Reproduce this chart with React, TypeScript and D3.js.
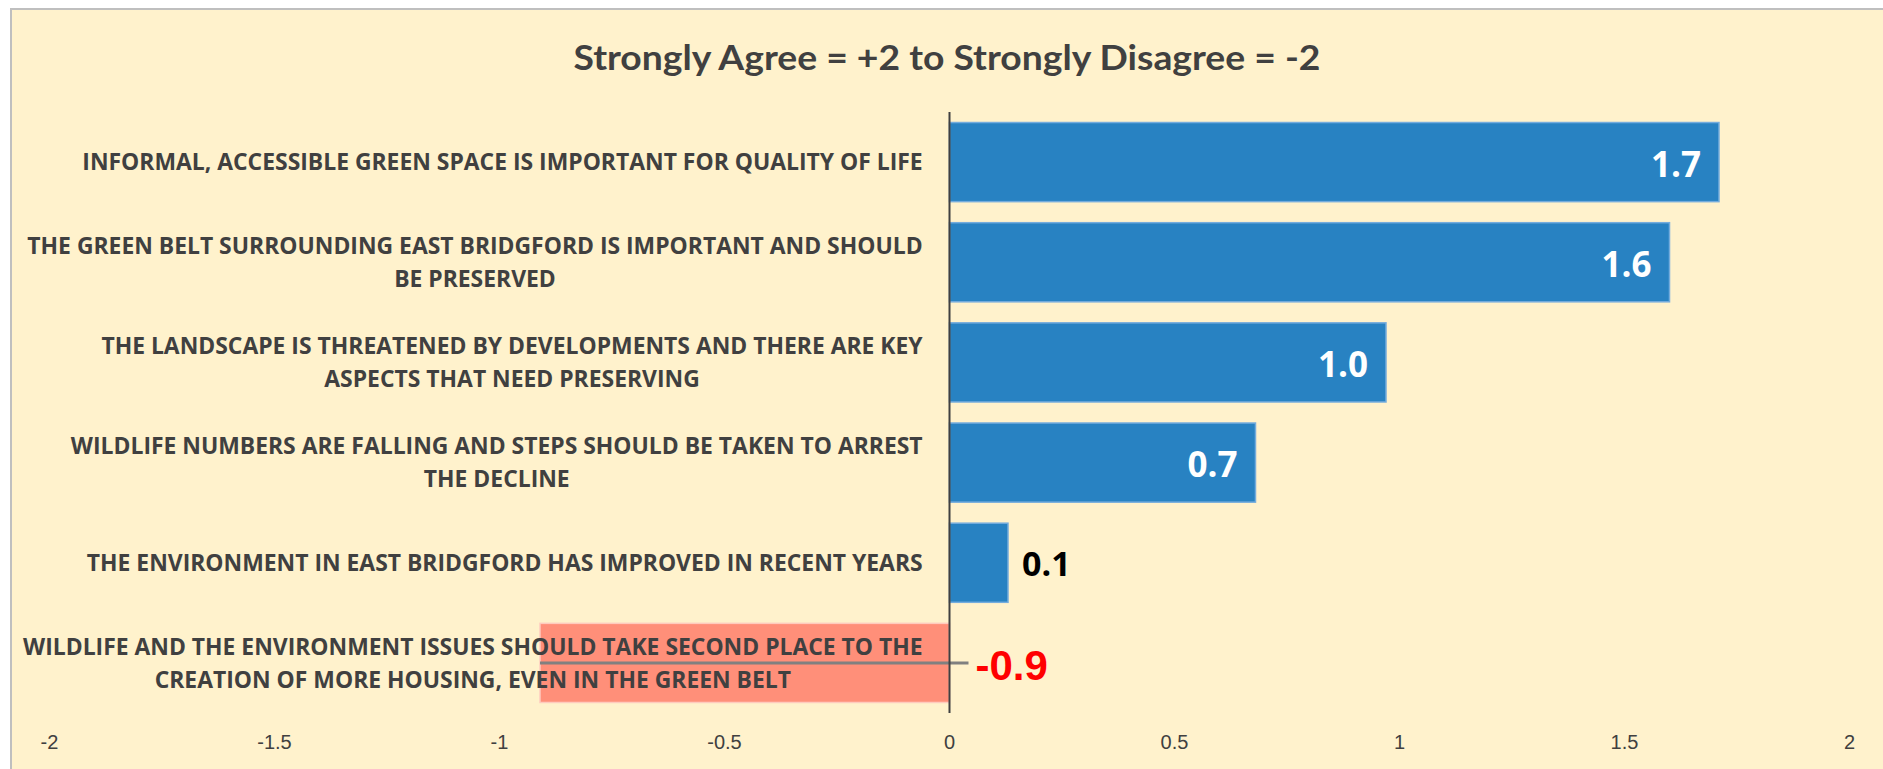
import React, { useEffect, useRef } from 'react';
import * as d3 from 'd3';

const W = 1883;
const H = 769;

const title = 'Strongly Agree = +2 to Strongly Disagree = -2';

const categoryLines: string[][] = [
  ['INFORMAL, ACCESSIBLE GREEN SPACE IS IMPORTANT FOR QUALITY OF LIFE'],
  ['THE GREEN BELT SURROUNDING EAST BRIDGFORD IS IMPORTANT AND SHOULD', 'BE PRESERVED'],
  ['THE LANDSCAPE IS THREATENED BY DEVELOPMENTS AND THERE ARE KEY', 'ASPECTS THAT NEED PRESERVING'],
  ['WILDLIFE NUMBERS ARE FALLING AND STEPS SHOULD BE TAKEN TO ARREST', 'THE DECLINE'],
  ['THE ENVIRONMENT IN EAST BRIDGFORD HAS IMPROVED IN RECENT YEARS'],
  ['WILDLIFE AND THE ENVIRONMENT ISSUES SHOULD TAKE SECOND PLACE TO THE', 'CREATION OF MORE HOUSING, EVEN IN THE GREEN BELT'],
];

const values: number[] = [1.71, 1.6, 0.97, 0.68, 0.13, -0.91];

const tickValues: number[] = [-2, -1.5, -1, -0.5, 0, 0.5, 1, 1.5, 2];

export default function App() {
  const ref = useRef<SVGSVGElement>(null);

  useEffect(() => {
    const svg = d3.select(ref.current);
    svg.selectAll('*').remove();

    const x = d3.scaleLinear().domain([-2, 2]).range([49.5, 1849.5]);
    const y = d3
      .scaleBand<number>()
      .domain(d3.range(values.length))
      .range([112, 713])
      .paddingInner(0.21)
      .paddingOuter(0.105);

    // background frame
    svg
      .append('rect')
      .attr('x', 11)
      .attr('y', 9)
      .attr('width', W)
      .attr('height', H)
      .attr('fill', '#FFF2CC')
      .attr('stroke', '#BFBFBF')
      .attr('stroke-width', 2);

    // title
    svg
      .append('text')
      .attr('x', 947)
      .attr('y', 70)
      .attr('text-anchor', 'middle')
      .attr('font-family', 'Lato, "Open Sans", sans-serif')
      .attr('font-weight', 700)
      .attr('font-size', 35)
      .attr('fill', '#404040')
      .attr('textLength', 747)
      .attr('lengthAdjust', 'spacingAndGlyphs')
      .text(title);

    // bars
    values.forEach((v, i) => {
      const pos = v >= 0;
      svg
        .append('rect')
        .attr('x', x(Math.min(0, v)))
        .attr('y', y(i)!)
        .attr('width', Math.abs(x(v) - x(0)))
        .attr('height', y.bandwidth())
        .attr('fill', pos ? '#2882C2' : '#FF8F79')
        .attr('stroke', pos ? '#74ACDD' : '#FFCBBE')
        .attr('stroke-width', 1.5);
    });

    // category labels
    const lineGap = 33;
    const groups: { g: any; widths: number[]; i: number }[] = [];
    categoryLines.forEach((lines, i) => {
      const g = svg.append('g');
      const widths: number[] = [];
      lines.forEach((ln, j) => {
        const t = g
          .append('text')
          .attr('x', 0)
          .attr('y', (j - (lines.length - 1) / 2) * lineGap)
          .attr('dy', '0.36em')
          .attr('text-anchor', 'middle')
          .attr('font-family', '"Open Sans", sans-serif')
          .attr('font-weight', 700)
          .attr('font-size', 23)
          .attr('fill', '#404040')
          .text(ln);
        widths.push((t.node() as SVGTextElement).getComputedTextLength());
      });
      groups.push({ g, widths, i });
    });
    const k = 841 / groups[0].widths[0];
    groups.forEach(({ g, widths, i }) => {
      const maxW = Math.max(...widths);
      const cy = y(i)! + y.bandwidth() / 2;
      g.attr('transform', `translate(${923 - (k * maxW) / 2},${cy}) scale(${k},1)`);
    });

    // leader line for negative bar
    values.forEach((v, i) => {
      if (v < 0) {
        const cy = y(i)! + y.bandwidth() / 2;
        svg
          .append('line')
          .attr('x1', x(v))
          .attr('x2', x(0) + 19)
          .attr('y1', cy)
          .attr('y2', cy)
          .attr('stroke', '#808080')
          .attr('stroke-width', 3);
      }
    });

    // axis line
    svg
      .append('line')
      .attr('x1', x(0))
      .attr('x2', x(0))
      .attr('y1', 112)
      .attr('y2', 713)
      .attr('stroke', '#404040')
      .attr('stroke-width', 2);

    // value labels
    const fmt = d3.formatLocale({ decimal: '.', thousands: ',', grouping: [3], currency: ['', ''], minus: '-' }).format('.1f');
    values.forEach((v, i) => {
      const cy = y(i)! + y.bandwidth() / 2;
      const t = svg.append('text').text(fmt(v));
      if (v < 0) {
        t.attr('x', x(0) + 26)
          .attr('y', cy)
          .attr('dy', '0.4em')
          .attr('text-anchor', 'start')
          .attr('font-family', '"Liberation Sans", Arial, sans-serif')
          .attr('font-weight', 700)
          .attr('font-size', 42)
          .attr('fill', '#FF0000');
      } else if (x(v) - x(0) > 100) {
        t.attr('x', x(v) - 18)
          .attr('y', cy)
          .attr('dy', '0.42em')
          .attr('text-anchor', 'end')
          .attr('font-family', '"Open Sans", sans-serif')
          .attr('font-weight', 700)
          .attr('font-size', 35)
          .attr('fill', '#FFFFFF');
      } else {
        t.attr('x', x(v) + 14)
          .attr('y', cy)
          .attr('dy', '0.4em')
          .attr('text-anchor', 'start')
          .attr('font-family', '"Open Sans", sans-serif')
          .attr('font-weight', 700)
          .attr('font-size', 34)
          .attr('fill', '#000000');
      }
    });

    // tick labels
    svg
      .append('g')
      .selectAll('text')
      .data(tickValues)
      .enter()
      .append('text')
      .attr('x', (d) => x(d))
      .attr('y', 749)
      .attr('text-anchor', 'middle')
      .attr('font-family', '"Liberation Sans", Arial, sans-serif')
      .attr('font-size', 20)
      .attr('fill', '#404040')
      .text((d) => String(d));
  }, []);

  return (
    <svg
      ref={ref}
      width={W}
      height={H}
      style={{ position: 'absolute', left: 0, top: 0, display: 'block', background: '#FFFFFF' }}
    />
  );
}
